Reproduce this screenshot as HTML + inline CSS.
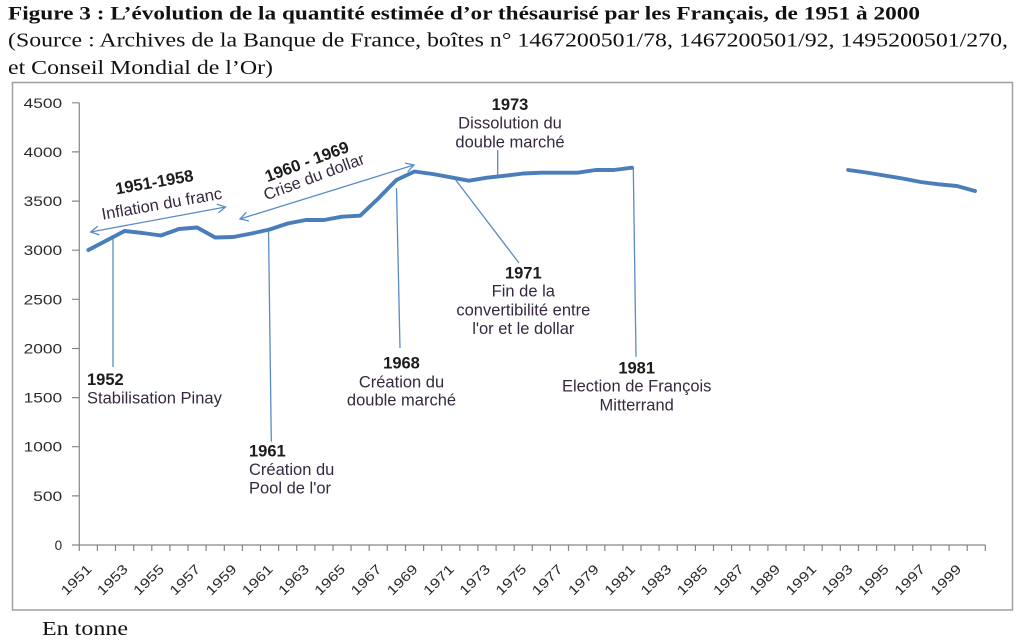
<!DOCTYPE html>
<html><head><meta charset="utf-8"><style>
html,body{margin:0;padding:0;background:#fff;}
svg{display:block;}
.t{font-family:"Liberation Serif",serif;fill:#111;}
.yr{font-family:"Liberation Sans",sans-serif;font-weight:bold;font-size:16.5px;fill:#1c1c1c;}
.ds{font-family:"Liberation Sans",sans-serif;font-size:16.5px;fill:#36293f;}
.tk{font-family:"Liberation Sans",sans-serif;font-size:13.5px;fill:#2a2a2a;}
</style></head><body>
<svg width="1024" height="642" viewBox="0 0 1024 642" xmlns="http://www.w3.org/2000/svg">
<rect width="1024" height="642" fill="#fff"/>
<text class="t" x="8" y="19.5" font-size="19" font-weight="bold" textLength="912" lengthAdjust="spacingAndGlyphs">Figure 3 : L’évolution de la quantité estimée d’or thésaurisé par les Français, de 1951 à 2000</text>
<text class="t" x="8" y="46.5" font-size="20" textLength="1000" lengthAdjust="spacingAndGlyphs">(Source : Archives de la Banque de France, boîtes n° 1467200501/78, 1467200501/92, 1495200501/270,</text>
<text class="t" x="8" y="74" font-size="20" textLength="265" lengthAdjust="spacingAndGlyphs">et Conseil Mondial de l’Or)</text>
<text class="t" x="42" y="635" font-size="20" textLength="86" lengthAdjust="spacingAndGlyphs">En tonne</text>

<rect x="12.5" y="82.5" width="1000" height="527.5" fill="none" stroke="#a0a0a0" stroke-width="1.5"/>

<g stroke="#868686" stroke-width="1.2" fill="none">
<line x1="79.3" y1="102.8" x2="79.3" y2="545"/>
<line x1="79.3" y1="545" x2="985.3" y2="545"/>
<path d="M72 545H79.3M72 495.9H79.3M72 446.7H79.3M72 397.6H79.3M72 348.5H79.3M72 299.3H79.3M72 250.2H79.3M72 201.1H79.3M72 151.9H79.3M72 102.8H79.3"/>
<path d="M79.3 545V551M97.4 545V551M115.5 545V551M133.7 545V551M151.8 545V551M169.9 545V551M188 545V551M206.1 545V551M224.3 545V551M242.4 545V551M260.5 545V551M278.6 545V551M296.7 545V551M314.9 545V551M333 545V551M351.1 545V551M369.2 545V551M387.3 545V551M405.5 545V551M423.6 545V551M441.7 545V551M459.8 545V551M477.9 545V551M496.1 545V551M514.2 545V551M532.3 545V551M550.4 545V551M568.5 545V551M586.7 545V551M604.8 545V551M622.9 545V551M641 545V551M659.1 545V551M677.3 545V551M695.4 545V551M713.5 545V551M731.6 545V551M749.7 545V551M767.9 545V551M786 545V551M804.1 545V551M822.2 545V551M840.3 545V551M858.5 545V551M876.6 545V551M894.7 545V551M912.8 545V551M930.9 545V551M949.1 545V551M967.2 545V551M985.3 545V551"/>
</g>

<g class="tk" text-anchor="end">
<text x="62.2" y="550">0</text>
<text x="62.2" y="500.9" textLength="29" lengthAdjust="spacingAndGlyphs">500</text>
<text x="62.2" y="451.7" textLength="38.5" lengthAdjust="spacingAndGlyphs">1000</text>
<text x="62.2" y="402.6" textLength="38.5" lengthAdjust="spacingAndGlyphs">1500</text>
<text x="62.2" y="353.5" textLength="38.5" lengthAdjust="spacingAndGlyphs">2000</text>
<text x="62.2" y="304.3" textLength="38.5" lengthAdjust="spacingAndGlyphs">2500</text>
<text x="62.2" y="255.2" textLength="38.5" lengthAdjust="spacingAndGlyphs">3000</text>
<text x="62.2" y="206.1" textLength="38.5" lengthAdjust="spacingAndGlyphs">3500</text>
<text x="62.2" y="156.9" textLength="38.5" lengthAdjust="spacingAndGlyphs">4000</text>
<text x="62.2" y="107.8" textLength="38.5" lengthAdjust="spacingAndGlyphs">4500</text>
</g>

<g class="tk" text-anchor="end">
<text transform="translate(92.5,570) rotate(-45)" textLength="37" lengthAdjust="spacingAndGlyphs">1951</text>
<text transform="translate(128.7,570) rotate(-45)" textLength="37" lengthAdjust="spacingAndGlyphs">1953</text>
<text transform="translate(164.9,570) rotate(-45)" textLength="37" lengthAdjust="spacingAndGlyphs">1955</text>
<text transform="translate(201.2,570) rotate(-45)" textLength="37" lengthAdjust="spacingAndGlyphs">1957</text>
<text transform="translate(237.4,570) rotate(-45)" textLength="37" lengthAdjust="spacingAndGlyphs">1959</text>
<text transform="translate(273.7,570) rotate(-45)" textLength="37" lengthAdjust="spacingAndGlyphs">1961</text>
<text transform="translate(309.9,570) rotate(-45)" textLength="37" lengthAdjust="spacingAndGlyphs">1963</text>
<text transform="translate(346.1,570) rotate(-45)" textLength="37" lengthAdjust="spacingAndGlyphs">1965</text>
<text transform="translate(382.4,570) rotate(-45)" textLength="37" lengthAdjust="spacingAndGlyphs">1967</text>
<text transform="translate(418.6,570) rotate(-45)" textLength="37" lengthAdjust="spacingAndGlyphs">1969</text>
<text transform="translate(454.9,570) rotate(-45)" textLength="37" lengthAdjust="spacingAndGlyphs">1971</text>
<text transform="translate(491.1,570) rotate(-45)" textLength="37" lengthAdjust="spacingAndGlyphs">1973</text>
<text transform="translate(527.3,570) rotate(-45)" textLength="37" lengthAdjust="spacingAndGlyphs">1975</text>
<text transform="translate(563.6,570) rotate(-45)" textLength="37" lengthAdjust="spacingAndGlyphs">1977</text>
<text transform="translate(599.8,570) rotate(-45)" textLength="37" lengthAdjust="spacingAndGlyphs">1979</text>
<text transform="translate(636.1,570) rotate(-45)" textLength="37" lengthAdjust="spacingAndGlyphs">1981</text>
<text transform="translate(672.3,570) rotate(-45)" textLength="37" lengthAdjust="spacingAndGlyphs">1983</text>
<text transform="translate(708.5,570) rotate(-45)" textLength="37" lengthAdjust="spacingAndGlyphs">1985</text>
<text transform="translate(744.8,570) rotate(-45)" textLength="37" lengthAdjust="spacingAndGlyphs">1987</text>
<text transform="translate(781,570) rotate(-45)" textLength="37" lengthAdjust="spacingAndGlyphs">1989</text>
<text transform="translate(817.3,570) rotate(-45)" textLength="37" lengthAdjust="spacingAndGlyphs">1991</text>
<text transform="translate(853.5,570) rotate(-45)" textLength="37" lengthAdjust="spacingAndGlyphs">1993</text>
<text transform="translate(889.7,570) rotate(-45)" textLength="37" lengthAdjust="spacingAndGlyphs">1995</text>
<text transform="translate(926,570) rotate(-45)" textLength="37" lengthAdjust="spacingAndGlyphs">1997</text>
<text transform="translate(962.2,570) rotate(-45)" textLength="37" lengthAdjust="spacingAndGlyphs">1999</text>
</g>

<g stroke="#5b8bc6" stroke-width="1.3" fill="none">
<line x1="113" y1="238" x2="113" y2="367"/>
<line x1="268.5" y1="229" x2="271.3" y2="441.7"/>
<line x1="396.5" y1="188" x2="400" y2="348"/>
<line x1="455" y1="179" x2="519" y2="263"/>
<line x1="497.7" y1="150" x2="497.7" y2="176.7"/>
<line x1="633.3" y1="167.7" x2="636" y2="356.7"/>
<line x1="90.7" y1="232" x2="225.5" y2="207"/>
<polyline points="218.4,212.9 225.5,207 216.8,204.1"/>
<polyline points="99.4,234.9 90.7,232 97.8,226.1"/>
<line x1="240" y1="219" x2="414" y2="165"/>
<polyline points="407.7,171.7 414,165 405.1,163.1"/>
<polyline points="248.9,220.9 240,219 246.3,212.3"/>
</g>

<g stroke="#4a7ebb" stroke-width="3.9" fill="none" stroke-linejoin="round" stroke-linecap="round">
<polyline points="88.36,250 106.48,240.5 124.6,231 142.72,233 160.84,235.5 178.96,229 197.08,227.5 215.2,237.5 233.32,237 251.44,233.5 269.56,229.5 287.68,223.5 305.8,220 323.92,220 342.04,216.7 360.16,215.7 378.28,198.5 396.4,180 414.52,171.5 432.64,174 450.76,177.3 468.88,180.7 487,177.7 505.12,175.7 523.24,173.5 541.36,172.7 559.48,172.7 577.6,172.7 595.72,170 613.84,170 631.96,167.7"/>
<polyline points="848.2,170 866.3,172.5 884.4,175.5 902.6,178.5 920.7,182 938.8,184.3 956.9,186 975,191"/>
</g>

<text class="yr" x="87" y="385">1952</text>
<text class="ds" x="87" y="403.3">Stabilisation Pinay</text>

<text class="yr" x="249" y="456.7">1961</text>
<text class="ds" x="249" y="475">Création du</text>
<text class="ds" x="249" y="493.3">Pool de l'or</text>

<g text-anchor="middle">
<text class="yr" x="401.5" y="368.3">1968</text>
<text class="ds" x="401.5" y="387.3">Création du</text>
<text class="ds" x="401.5" y="405.7">double marché</text>

<text class="yr" x="523.3" y="278.3">1971</text>
<text class="ds" x="523.3" y="296.7">Fin de la</text>
<text class="ds" x="523.3" y="315.7">convertibilité entre</text>
<text class="ds" x="523.3" y="334">l'or et le dollar</text>

<text class="yr" x="510" y="110">1973</text>
<text class="ds" x="510" y="128.3">Dissolution du</text>
<text class="ds" x="510" y="147.3">double marché</text>

<text class="yr" x="636.7" y="373.5">1981</text>
<text class="ds" x="636.7" y="391.7">Election de François</text>
<text class="ds" x="636.7" y="410.7">Mitterrand</text>

<text class="yr" transform="translate(154.3,181.7) rotate(-10)" y="6">1951-1958</text>
<text class="ds" transform="translate(161.7,203.3) rotate(-10)" y="6">Inflation du franc</text>
<text class="yr" transform="translate(306.7,161.2) rotate(-20.5)" y="6">1960 - 1969</text>
<text class="ds" transform="translate(313.8,176.2) rotate(-20.5)" y="6">Crise du dollar</text>
</g>
</svg>
</body></html>
